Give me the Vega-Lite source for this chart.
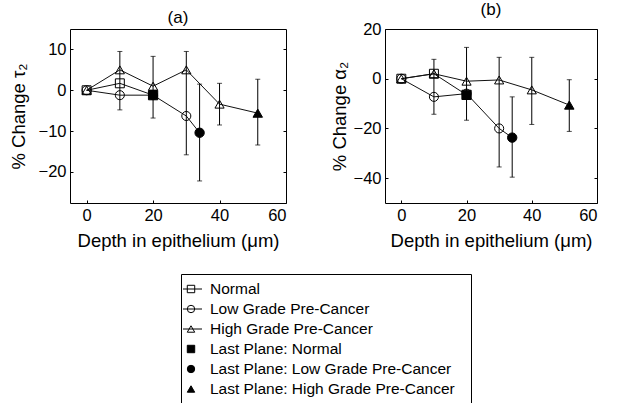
{
  "$schema": "https://vega.github.io/schema/vega-lite/v6.json",
  "background": "white",
  "padding": {"left": 8, "top": 0, "right": 5, "bottom": 2},
  "config": {
    "font": "Liberation Sans",
    "view": {"stroke": "black", "strokeWidth": 1},
    "axis": {"grid": false, "domain": false, "tickSize": -3, "tickColor": "black", "labelFontSize": 16.5, "labelColor": "black", "labelFont": "Liberation Sans", "titleFont": "Liberation Sans", "titleFontSize": 18.5, "titleFontWeight": "normal", "titleColor": "black", "labelPadding": 7},
    "title": {"fontSize": 17, "fontWeight": "normal", "font": "Liberation Sans", "offset": 2, "color": "black"}
  },
  "datasets": {
    "pts": [
      {"panel": "a", "series": "Normal", "marker": "Normal", "depth": 0, "value": 0},
      {"panel": "a", "series": "Normal", "marker": "Normal", "depth": 10, "value": 1.7},
      {"panel": "a", "series": "Low", "marker": "Low Grade Pre-Cancer", "depth": 0, "value": 0},
      {"panel": "a", "series": "Low", "marker": "Low Grade Pre-Cancer", "depth": 10, "value": -1.2},
      {"panel": "a", "series": "Low", "marker": "Low Grade Pre-Cancer", "depth": 20, "value": -1.2},
      {"panel": "a", "series": "Low", "marker": "Low Grade Pre-Cancer", "depth": 30, "value": -6.3, "lo": -15.8, "hi": 9.5},
      {"panel": "a", "series": "High", "marker": "High Grade Pre-Cancer", "depth": 0, "value": 0},
      {"panel": "a", "series": "High", "marker": "High Grade Pre-Cancer", "depth": 10, "value": 5, "lo": -4.8, "hi": 9.5},
      {"panel": "a", "series": "High", "marker": "High Grade Pre-Cancer", "depth": 20, "value": 1},
      {"panel": "a", "series": "High", "marker": "High Grade Pre-Cancer", "depth": 30, "value": 5},
      {"panel": "a", "series": "High", "marker": "High Grade Pre-Cancer", "depth": 40, "value": -3.4, "lo": -8.5, "hi": 1.7},
      {"panel": "a", "series": "Normal", "marker": "Last Plane: Normal", "depth": 20, "value": -1.2, "lo": -6.8, "hi": 8.3},
      {"panel": "a", "series": "Low", "marker": "Last Plane: Low Grade Pre-Cancer", "depth": 34, "value": -10.4, "lo": -22.2, "hi": 1.5},
      {"panel": "a", "series": "High", "marker": "Last Plane: High Grade Pre-Cancer", "depth": 51.5, "value": -5.6, "lo": -13.4, "hi": 2.7},
      {"panel": "b", "series": "Normal", "marker": "Normal", "depth": 0, "value": 0},
      {"panel": "b", "series": "Normal", "marker": "Normal", "depth": 10, "value": 2},
      {"panel": "b", "series": "Low", "marker": "Low Grade Pre-Cancer", "depth": 0, "value": 0},
      {"panel": "b", "series": "Low", "marker": "Low Grade Pre-Cancer", "depth": 10, "value": -7.3, "lo": -14.3, "hi": 7.8},
      {"panel": "b", "series": "Low", "marker": "Low Grade Pre-Cancer", "depth": 20, "value": -6},
      {"panel": "b", "series": "Low", "marker": "Low Grade Pre-Cancer", "depth": 30, "value": -20, "lo": -35.5, "hi": 8.6},
      {"panel": "b", "series": "High", "marker": "High Grade Pre-Cancer", "depth": 0, "value": 0},
      {"panel": "b", "series": "High", "marker": "High Grade Pre-Cancer", "depth": 10, "value": 2},
      {"panel": "b", "series": "High", "marker": "High Grade Pre-Cancer", "depth": 20, "value": -1},
      {"panel": "b", "series": "High", "marker": "High Grade Pre-Cancer", "depth": 30, "value": -0.5},
      {"panel": "b", "series": "High", "marker": "High Grade Pre-Cancer", "depth": 40, "value": -4.5, "lo": -18.4, "hi": 8.6},
      {"panel": "b", "series": "Normal", "marker": "Last Plane: Normal", "depth": 20, "value": -6.5, "lo": -16.7, "hi": 12.6},
      {"panel": "b", "series": "Low", "marker": "Last Plane: Low Grade Pre-Cancer", "depth": 34, "value": -23.7, "lo": -39.6, "hi": -7.3},
      {"panel": "b", "series": "High", "marker": "Last Plane: High Grade Pre-Cancer", "depth": 51.5, "value": -10.6, "lo": -21.2, "hi": -0.4}
    ],
    "leg": [
      {"order": 1, "label": "Normal", "hasLine": true},
      {"order": 2, "label": "Low Grade Pre-Cancer", "hasLine": true},
      {"order": 3, "label": "High Grade Pre-Cancer", "hasLine": true},
      {"order": 4, "label": "Last Plane: Normal", "hasLine": false},
      {"order": 5, "label": "Last Plane: Low Grade Pre-Cancer", "hasLine": false},
      {"order": 6, "label": "Last Plane: High Grade Pre-Cancer", "hasLine": false}
    ]
  },
  "vconcat": [
    {
      "hconcat": [
        {
          "title": "(a)",
          "width": 216,
          "height": 174,
          "data": {"name": "pts"},
          "transform": [{"filter": "datum.panel == 'a'"}],
          "resolve": {"axis": {"y": "independent"}},
          "encoding": {
            "x": {"field": "depth", "type": "quantitative", "scale": {"domain": [-5, 60], "nice": false, "zero": false}, "axis": {"values": [0, 20, 40, 60], "title": "Depth in epithelium (μm)", "titlePadding": 8}}
          },
          "layer": [
            {
              "mark": {"type": "line", "color": "#111111", "strokeWidth": 1},
              "encoding": {
                "y": {"field": "value", "type": "quantitative", "scale": {"domain": [-27.6, 15], "nice": false, "zero": false}, "axis": {"values": [-20, -10, 0, 10], "title": "% Change τ₂", "titlePadding": 10}},
                "detail": {"field": "series"},
                "order": {"field": "depth"}
              }
            },
            {
              "transform": [{"filter": "isValid(datum.lo)"}],
              "mark": {"type": "errorbar", "color": "black", "thickness": 1, "ticks": {"size": 5}},
              "encoding": {
                "y": {"field": "lo", "type": "quantitative", "axis": {"orient": "right", "labels": false, "title": null, "values": [-20, -10, 0, 10]}},
                "y2": {"field": "hi"}
              }
            },
            {
              "mark": {"type": "point", "filled": true, "strokeWidth": 1, "opacity": 1},
              "encoding": {
                "y": {"field": "value", "type": "quantitative", "axis": null},
                "shape": {"field": "marker", "type": "nominal", "legend": null, "scale": {"domain": ["Normal", "Low Grade Pre-Cancer", "High Grade Pre-Cancer", "Last Plane: Normal", "Last Plane: Low Grade Pre-Cancer", "Last Plane: High Grade Pre-Cancer"], "range": ["square", "circle", "triangle-up", "square", "circle", "triangle-up"]}},
                "fill": {"field": "marker", "type": "nominal", "legend": null, "scale": {"domain": ["Normal", "Low Grade Pre-Cancer", "High Grade Pre-Cancer", "Last Plane: Normal", "Last Plane: Low Grade Pre-Cancer", "Last Plane: High Grade Pre-Cancer"], "range": ["transparent", "transparent", "transparent", "black", "black", "black"]}},
                "size": {"field": "marker", "type": "nominal", "legend": null, "scale": {"domain": ["Normal", "Low Grade Pre-Cancer", "High Grade Pre-Cancer", "Last Plane: Normal", "Last Plane: Low Grade Pre-Cancer", "Last Plane: High Grade Pre-Cancer"], "range": [80, 90, 100, 90, 100, 140]}},
                "stroke": {"value": "black"}
              }
            }
          ]
        },
        {
          "title": "(b)",
          "width": 212,
          "height": 174,
          "data": {"name": "pts"},
          "transform": [{"filter": "datum.panel == 'b'"}],
          "resolve": {"axis": {"y": "independent"}},
          "encoding": {
            "x": {"field": "depth", "type": "quantitative", "scale": {"domain": [-5, 60], "nice": false, "zero": false}, "axis": {"values": [0, 20, 40, 60], "title": "Depth in epithelium (μm)", "titlePadding": 8}}
          },
          "layer": [
            {
              "mark": {"type": "line", "color": "#111111", "strokeWidth": 1},
              "encoding": {
                "y": {"field": "value", "type": "quantitative", "scale": {"domain": [-50, 20], "nice": false, "zero": false}, "axis": {"values": [-40, -20, 0, 20], "title": "% Change α₂", "titlePadding": 4}},
                "detail": {"field": "series"},
                "order": {"field": "depth"}
              }
            },
            {
              "transform": [{"filter": "isValid(datum.lo)"}],
              "mark": {"type": "errorbar", "color": "black", "thickness": 1, "ticks": {"size": 5}},
              "encoding": {
                "y": {"field": "lo", "type": "quantitative", "axis": {"orient": "right", "labels": false, "title": null, "values": [-40, -20, 0, 20]}},
                "y2": {"field": "hi"}
              }
            },
            {
              "mark": {"type": "point", "filled": true, "strokeWidth": 1, "opacity": 1},
              "encoding": {
                "y": {"field": "value", "type": "quantitative", "axis": null},
                "shape": {"field": "marker", "type": "nominal", "legend": null, "scale": {"domain": ["Normal", "Low Grade Pre-Cancer", "High Grade Pre-Cancer", "Last Plane: Normal", "Last Plane: Low Grade Pre-Cancer", "Last Plane: High Grade Pre-Cancer"], "range": ["square", "circle", "triangle-up", "square", "circle", "triangle-up"]}},
                "fill": {"field": "marker", "type": "nominal", "legend": null, "scale": {"domain": ["Normal", "Low Grade Pre-Cancer", "High Grade Pre-Cancer", "Last Plane: Normal", "Last Plane: Low Grade Pre-Cancer", "Last Plane: High Grade Pre-Cancer"], "range": ["transparent", "transparent", "transparent", "black", "black", "black"]}},
                "size": {"field": "marker", "type": "nominal", "legend": null, "scale": {"domain": ["Normal", "Low Grade Pre-Cancer", "High Grade Pre-Cancer", "Last Plane: Normal", "Last Plane: Low Grade Pre-Cancer", "Last Plane: High Grade Pre-Cancer"], "range": [80, 90, 100, 90, 100, 140]}},
                "stroke": {"value": "black"}
              }
            }
          ]
        }
      ],
      "spacing": 42
    },
    {
      "hconcat": [
        {
          "width": 110,
          "height": 10,
          "view": {"stroke": null},
          "data": {"values": [{"k": 1}]},
          "mark": {"type": "point", "opacity": 0},
          "encoding": {}
        },
        {
          "width": 290,
          "height": 130,
          "data": {"name": "leg"},
          "encoding": {
            "y": {"field": "order", "type": "ordinal", "axis": null, "scale": {"type": "point", "padding": 0.75}}
          },
          "layer": [
            {
              "transform": [{"filter": "datum.hasLine"}],
              "mark": {"type": "rule", "color": "black", "strokeWidth": 1},
              "encoding": {
                "x": {"datum": 2, "type": "quantitative", "scale": {"domain": [0, 290], "nice": false, "zero": false}, "axis": null},
                "x2": {"datum": 21}
              }
            },
            {
              "mark": {"type": "point", "filled": true, "strokeWidth": 1, "opacity": 1},
              "encoding": {
                "x": {"datum": 10, "type": "quantitative"},
                "shape": {"field": "label", "type": "nominal", "legend": null, "scale": {"domain": ["Normal", "Low Grade Pre-Cancer", "High Grade Pre-Cancer", "Last Plane: Normal", "Last Plane: Low Grade Pre-Cancer", "Last Plane: High Grade Pre-Cancer"], "range": ["square", "circle", "triangle-up", "square", "circle", "triangle-up"]}},
                "fill": {"field": "label", "type": "nominal", "legend": null, "scale": {"domain": ["Normal", "Low Grade Pre-Cancer", "High Grade Pre-Cancer", "Last Plane: Normal", "Last Plane: Low Grade Pre-Cancer", "Last Plane: High Grade Pre-Cancer"], "range": ["white", "white", "white", "black", "black", "black"]}},
                "size": {"value": 55},
                "stroke": {"value": "black"}
              }
            },
            {
              "mark": {"type": "text", "align": "left", "baseline": "middle", "fontSize": 15.5, "font": "Liberation Sans", "color": "black"},
              "encoding": {
                "x": {"datum": 29, "type": "quantitative"},
                "text": {"field": "label"}
              }
            }
          ]
        }
      ],
      "spacing": 0
    }
  ],
  "spacing": 22
}
